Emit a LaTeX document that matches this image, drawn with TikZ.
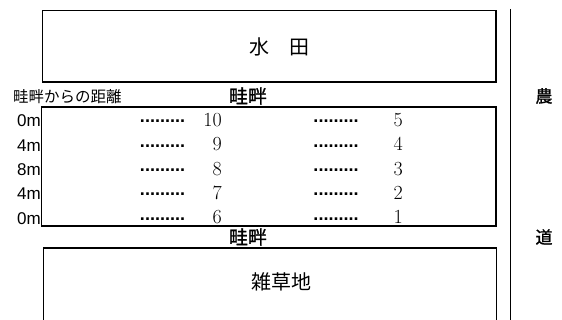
\documentclass[tikz,border=0pt]{standalone}
\usepackage{fontspec}
\newfontfamily\jpfont{Noto Sans CJK JP}
\newfontfamily\jpmedium[FakeBold=1.2]{Noto Sans CJK JP}
\newfontfamily\gothic{Liberation Sans}
\usetikzlibrary{positioning}

\begin{document}
\begin{tikzpicture}[
  x=1pt, y=-1pt,
  fieldline/.style = {draw=black, line width=1.1pt},
  roadline/.style  = {draw=black, line width=1.6pt},
  fieldtext/.style = {inner sep=0pt, font=\jpfont\fontsize{20}{24}\selectfont},
  ridgetext/.style = {inner sep=0pt, font=\jpmedium\fontsize{19}{22}\selectfont},
  disthead/.style  = {inner sep=0pt, font=\jpfont\fontsize{15.5}{18}\selectfont},
  roadtext/.style  = {inner sep=0pt, font=\jpmedium\fontsize{17}{20}\selectfont},
  dist/.style      = {inner sep=0pt, anchor=east, font=\gothic\fontsize{17}{20}\selectfont},
  leader/.style    = {inner sep=0pt, font=\gothic\bfseries\fontsize{18}{20}\selectfont},
  plotno/.style    = {inner sep=0pt, anchor=east, font=\fontsize{20}{24}\selectfont}
]
\useasboundingbox (0,0) rectangle (562,320);

% fields and road
\draw[fieldline] (42.5,10.5) rectangle (496,82);
\draw[fieldline] (41.5,107) rectangle (496,226);
\draw[fieldline] (43.5,322) |- (496.5,248) -- (496.5,322);
\draw[roadline] (510.5,9) -- (510.5,322);

\node[fieldtext] (paddy) at (279,47) {水\quad 田};
\node[fieldtext] (weeds) at (281,282) {雑草地};
\node[ridgetext] (ridgetop) at (248,96) {畦畔};
\node[ridgetext] (ridgebot) at (248,237) {畦畔};
\node[disthead, anchor=west] (disthd) at (13,97) {畦畔からの距離};
\node[roadtext] (road1) at (544,96) {農};
\node[roadtext] (road2) at (544,237) {道};

% distance from the ridge
\node[dist] (d1) at (41,121) {0m};
\node[dist] (d2) at (41,145.3) {4m};
\node[dist] (d3) at (41,169.6) {8m};
\node[dist] (d4) at (41,194) {4m};
\node[dist] (d5) at (41,218.2) {0m};

% plots, left column
\node[leader] (l10) at (162.5,121.5) {.........};
\node[leader] (l9)  at (162.5,145.8) {.........};
\node[leader] (l8)  at (162.5,170.1) {.........};
\node[leader] (l7)  at (162.5,194.5) {.........};
\node[leader] (l6)  at (162.5,218.7) {.........};
\node[plotno] (p10) at (222,120) {10};
\node[plotno] (p9)  at (222,144.3) {9};
\node[plotno] (p8)  at (222,168.6) {8};
\node[plotno] (p7)  at (222,193) {7};
\node[plotno] (p6)  at (222,217.2) {6};

% plots, right column
\node[leader] (l5) at (336,121.5) {.........};
\node[leader] (l4) at (336,145.8) {.........};
\node[leader] (l3) at (336,170.1) {.........};
\node[leader] (l2) at (336,194.5) {.........};
\node[leader] (l1) at (336,218.7) {.........};
\node[plotno] (p5) at (403,120) {5};
\node[plotno] (p4) at (403,144.3) {4};
\node[plotno] (p3) at (403,168.6) {3};
\node[plotno] (p2) at (403,193) {2};
\node[plotno] (p1) at (403,217.2) {1};

\end{tikzpicture}
\end{document}
